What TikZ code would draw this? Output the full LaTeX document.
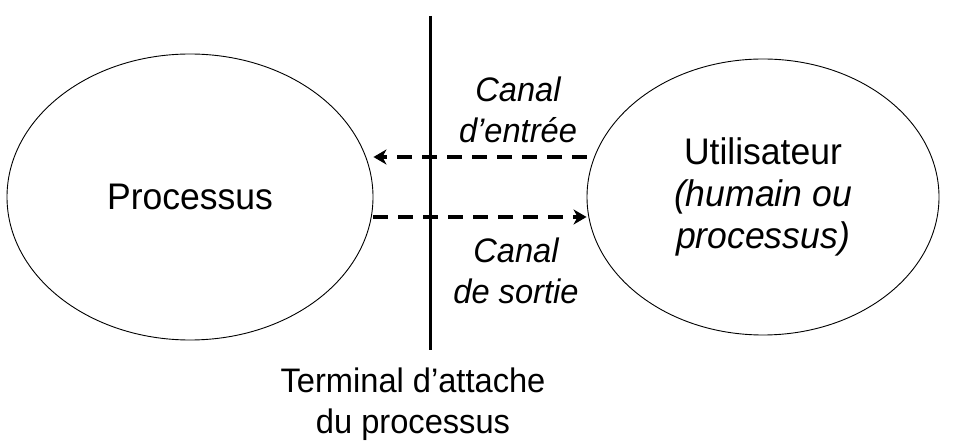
\documentclass[tikz,border=0pt]{standalone}
\usepackage{fontspec}
\setmainfont[FakeStretch=0.96]{Liberation Sans}
\usetikzlibrary{arrows.meta,shapes.geometric}
\begin{document}
\begin{tikzpicture}[x=1pt,y=-1pt,
  bulle/.style={draw,ellipse,line width=0.9pt,inner sep=0pt,align=center,
    font=\fontsize{37}{42}\selectfont},
  canal/.style={line width=3.5pt,dash pattern=on 15pt off 10pt,
    -{Stealth[length=13pt,width=15pt,inset=4pt]}},
  legende/.style={align=center,font=\fontsize{34}{41}\selectfont}]
\useasboundingbox (0,0) rectangle (964,446);

\node[bulle,minimum width=366pt,minimum height=286pt] (proc) at (190,197) {Processus};
\node[bulle,minimum width=352pt,minimum height=276pt] (user) at (763,197)
  {Utilisateur\\\itshape(humain ou\\\itshape processus)};

\coordinate (haut) at (430,16);
\coordinate (bas) at (430,350);
\draw[line width=3pt] (haut) -- (bas);

\draw[canal] ([yshift=40pt]user.west) -- ([yshift=40pt]proc.east);
\draw[canal] ([yshift=-20pt]proc.east) -- ([yshift=-20pt]user.west);

\node[legende,font=\fontsize{34}{41}\selectfont\itshape] (entree) at (518,110) {Canal\\d’entrée};
\node[legende,font=\fontsize{34}{41}\selectfont\itshape] (sortie) at (516,271) {Canal\\de sortie};
\node[legende] (term) at (413,404) {Terminal d’attache\\du processus};
\end{tikzpicture}
\end{document}
